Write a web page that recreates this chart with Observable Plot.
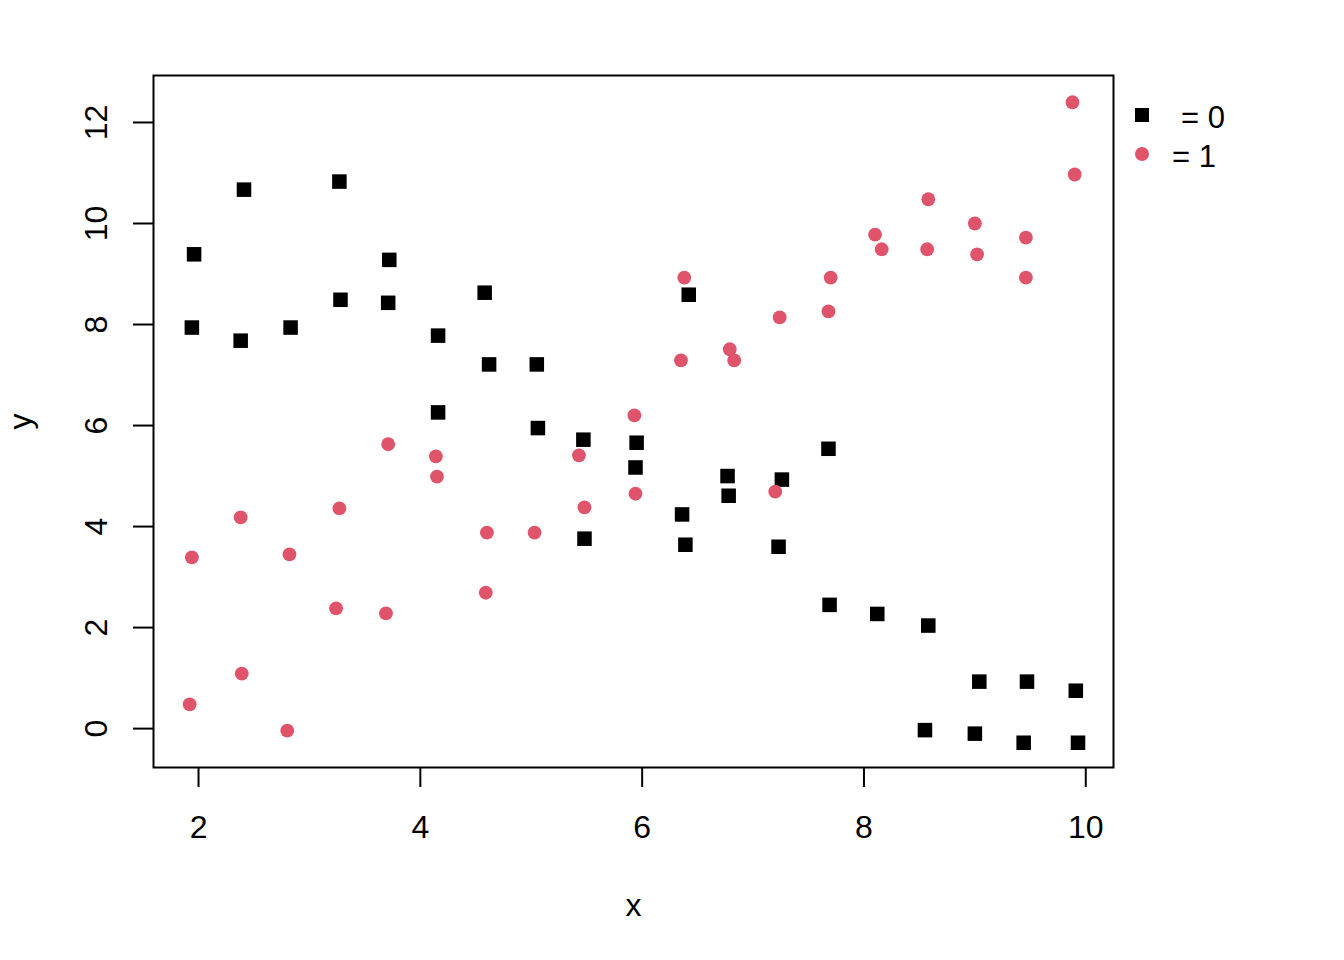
<!DOCTYPE html>
<html>
<head>
<meta charset="utf-8">
<script src="https://cdn.jsdelivr.net/npm/d3@7"></script>
<script src="https://cdn.jsdelivr.net/npm/@observablehq/plot@0.6"></script>
<style>
  html, body { margin: 0; padding: 0; background: white; }
  #wrap { position: relative; width: 1344px; height: 960px; font-family: "Liberation Sans", Arial, sans-serif; }
  .leg { position: absolute; font-size: 31px; color: black; line-height: 1; }
</style>
</head>
<body>
<div id="wrap"></div>
<script>
// Group 0 (black squares)
const x0 = [1.96, 2.41, 3.27, 3.72, 3.28, 3.71, 4.58, 1.94, 2.38, 2.83, 4.16, 4.62, 5.05, 4.16, 5.06, 5.47, 5.48, 5.95, 5.94, 6.42, 6.36, 6.39, 6.77, 6.78, 7.26, 7.23, 7.68, 7.69, 8.12, 8.58, 9.04, 9.47, 9.91, 8.55, 9.00, 9.44, 9.93];
const y0 = [9.39, 10.67, 10.83, 9.28, 8.49, 8.43, 8.63, 7.94, 7.68, 7.94, 7.78, 7.21, 7.21, 6.26, 5.95, 5.72, 3.76, 5.66, 5.17, 8.59, 4.24, 3.64, 5.00, 4.61, 4.93, 3.60, 5.54, 2.45, 2.27, 2.04, 0.93, 0.93, 0.75, -0.03, -0.10, -0.28, -0.28];
// Group 1 (red circles)
const x1 = [1.94, 2.38, 2.82, 3.27, 3.24, 3.71, 3.69, 4.14, 4.15, 4.60, 4.59, 5.03, 5.43, 5.48, 5.93, 5.94, 6.38, 6.35, 6.79, 6.83, 7.20, 7.24, 7.68, 7.70, 8.10, 8.16, 8.58, 8.57, 9.00, 9.02, 9.46, 9.46, 9.88, 9.90, 1.92, 2.39, 2.80];
const y1 = [3.39, 4.18, 3.45, 4.36, 2.38, 5.63, 2.28, 5.39, 4.99, 3.88, 2.69, 3.88, 5.41, 4.38, 6.20, 4.65, 8.93, 7.29, 7.51, 7.29, 4.69, 8.14, 8.26, 8.93, 9.78, 9.49, 10.48, 9.49, 10.00, 9.39, 9.72, 8.93, 12.40, 10.97, 0.48, 1.09, -0.04];

const xTicks = [2, 4, 6, 8, 10];
const yTicks = [0, 2, 4, 6, 8, 10, 12];
const groupLabels = ["= 0", "= 1"];
const colors = ["#000000", "#DF536B"];

const pts0 = x0.map((v, i) => ({x: v, y: y0[i]}));
const pts1 = x1.map((v, i) => ({x: v, y: y1[i]}));

const chart = Plot.plot({
  width: 1344,
  height: 960,
  marginLeft: 153,
  marginRight: 231,
  marginTop: 75,
  marginBottom: 193,
  style: {fontFamily: "'Liberation Sans', Arial, sans-serif", fontSize: "32px", background: "white", color: "black"},
  x: {domain: [1.594, 10.25], label: null},
  y: {domain: [-0.77, 12.93], label: null},
  marks: [
    Plot.frame({stroke: "black", strokeWidth: 2}),
    Plot.axisX({ticks: xTicks, tickSize: 20, tickPadding: 28, strokeWidth: 2, fontSize: 32, label: null, tickFormat: d => String(d)}),
    Plot.axisY({ticks: yTicks, tickSize: 20, strokeWidth: 2, label: null, tickFormat: () => ""}),
    Plot.text(yTicks, {y: d => d, text: d => String(d), frameAnchor: "left", dx: -57, rotate: -90, textAnchor: "middle", lineAnchor: "middle", fontSize: 32, fill: "black"}),
    Plot.text(["x"], {frameAnchor: "bottom", dy: 138, fontSize: 32, fill: "black", lineAnchor: "middle"}),
    Plot.text(["y"], {frameAnchor: "left", dx: -133, dy: 8, rotate: -90, fontSize: 32, fill: "black", lineAnchor: "middle"}),
    Plot.dot(pts0, {x: "x", y: "y", symbol: "square", r: 8.2, fill: colors[0], stroke: null}),
    Plot.dot(pts1, {x: "x", y: "y", symbol: "circle", r: 6.9, fill: colors[1], stroke: null})
  ]
});

const wrap = document.getElementById("wrap");
wrap.appendChild(chart);

// Legend (right margin)
function addLegend(top, symbolLeft, textLeft, shape, color, label) {
  const s = document.createElement("div");
  s.style.position = "absolute";
  s.style.left = (symbolLeft - 7) + "px"; s.style.top = (top - 7) + "px";
  s.style.width = "14px"; s.style.height = "14px";
  if (shape === "circle") s.style.borderRadius = "50%";
  s.style.background = color;
  wrap.appendChild(s);
  const t = document.createElement("div");
  t.className = "leg";
  t.textContent = label;
  t.style.left = textLeft + "px";
  t.style.top = (top - 13) + "px";
  wrap.appendChild(t);
}
addLegend(115, 1142, 1181, "square", colors[0], groupLabels[0]);
addLegend(154, 1142, 1172, "circle", colors[1], groupLabels[1]);
</script>
</body>
</html>
